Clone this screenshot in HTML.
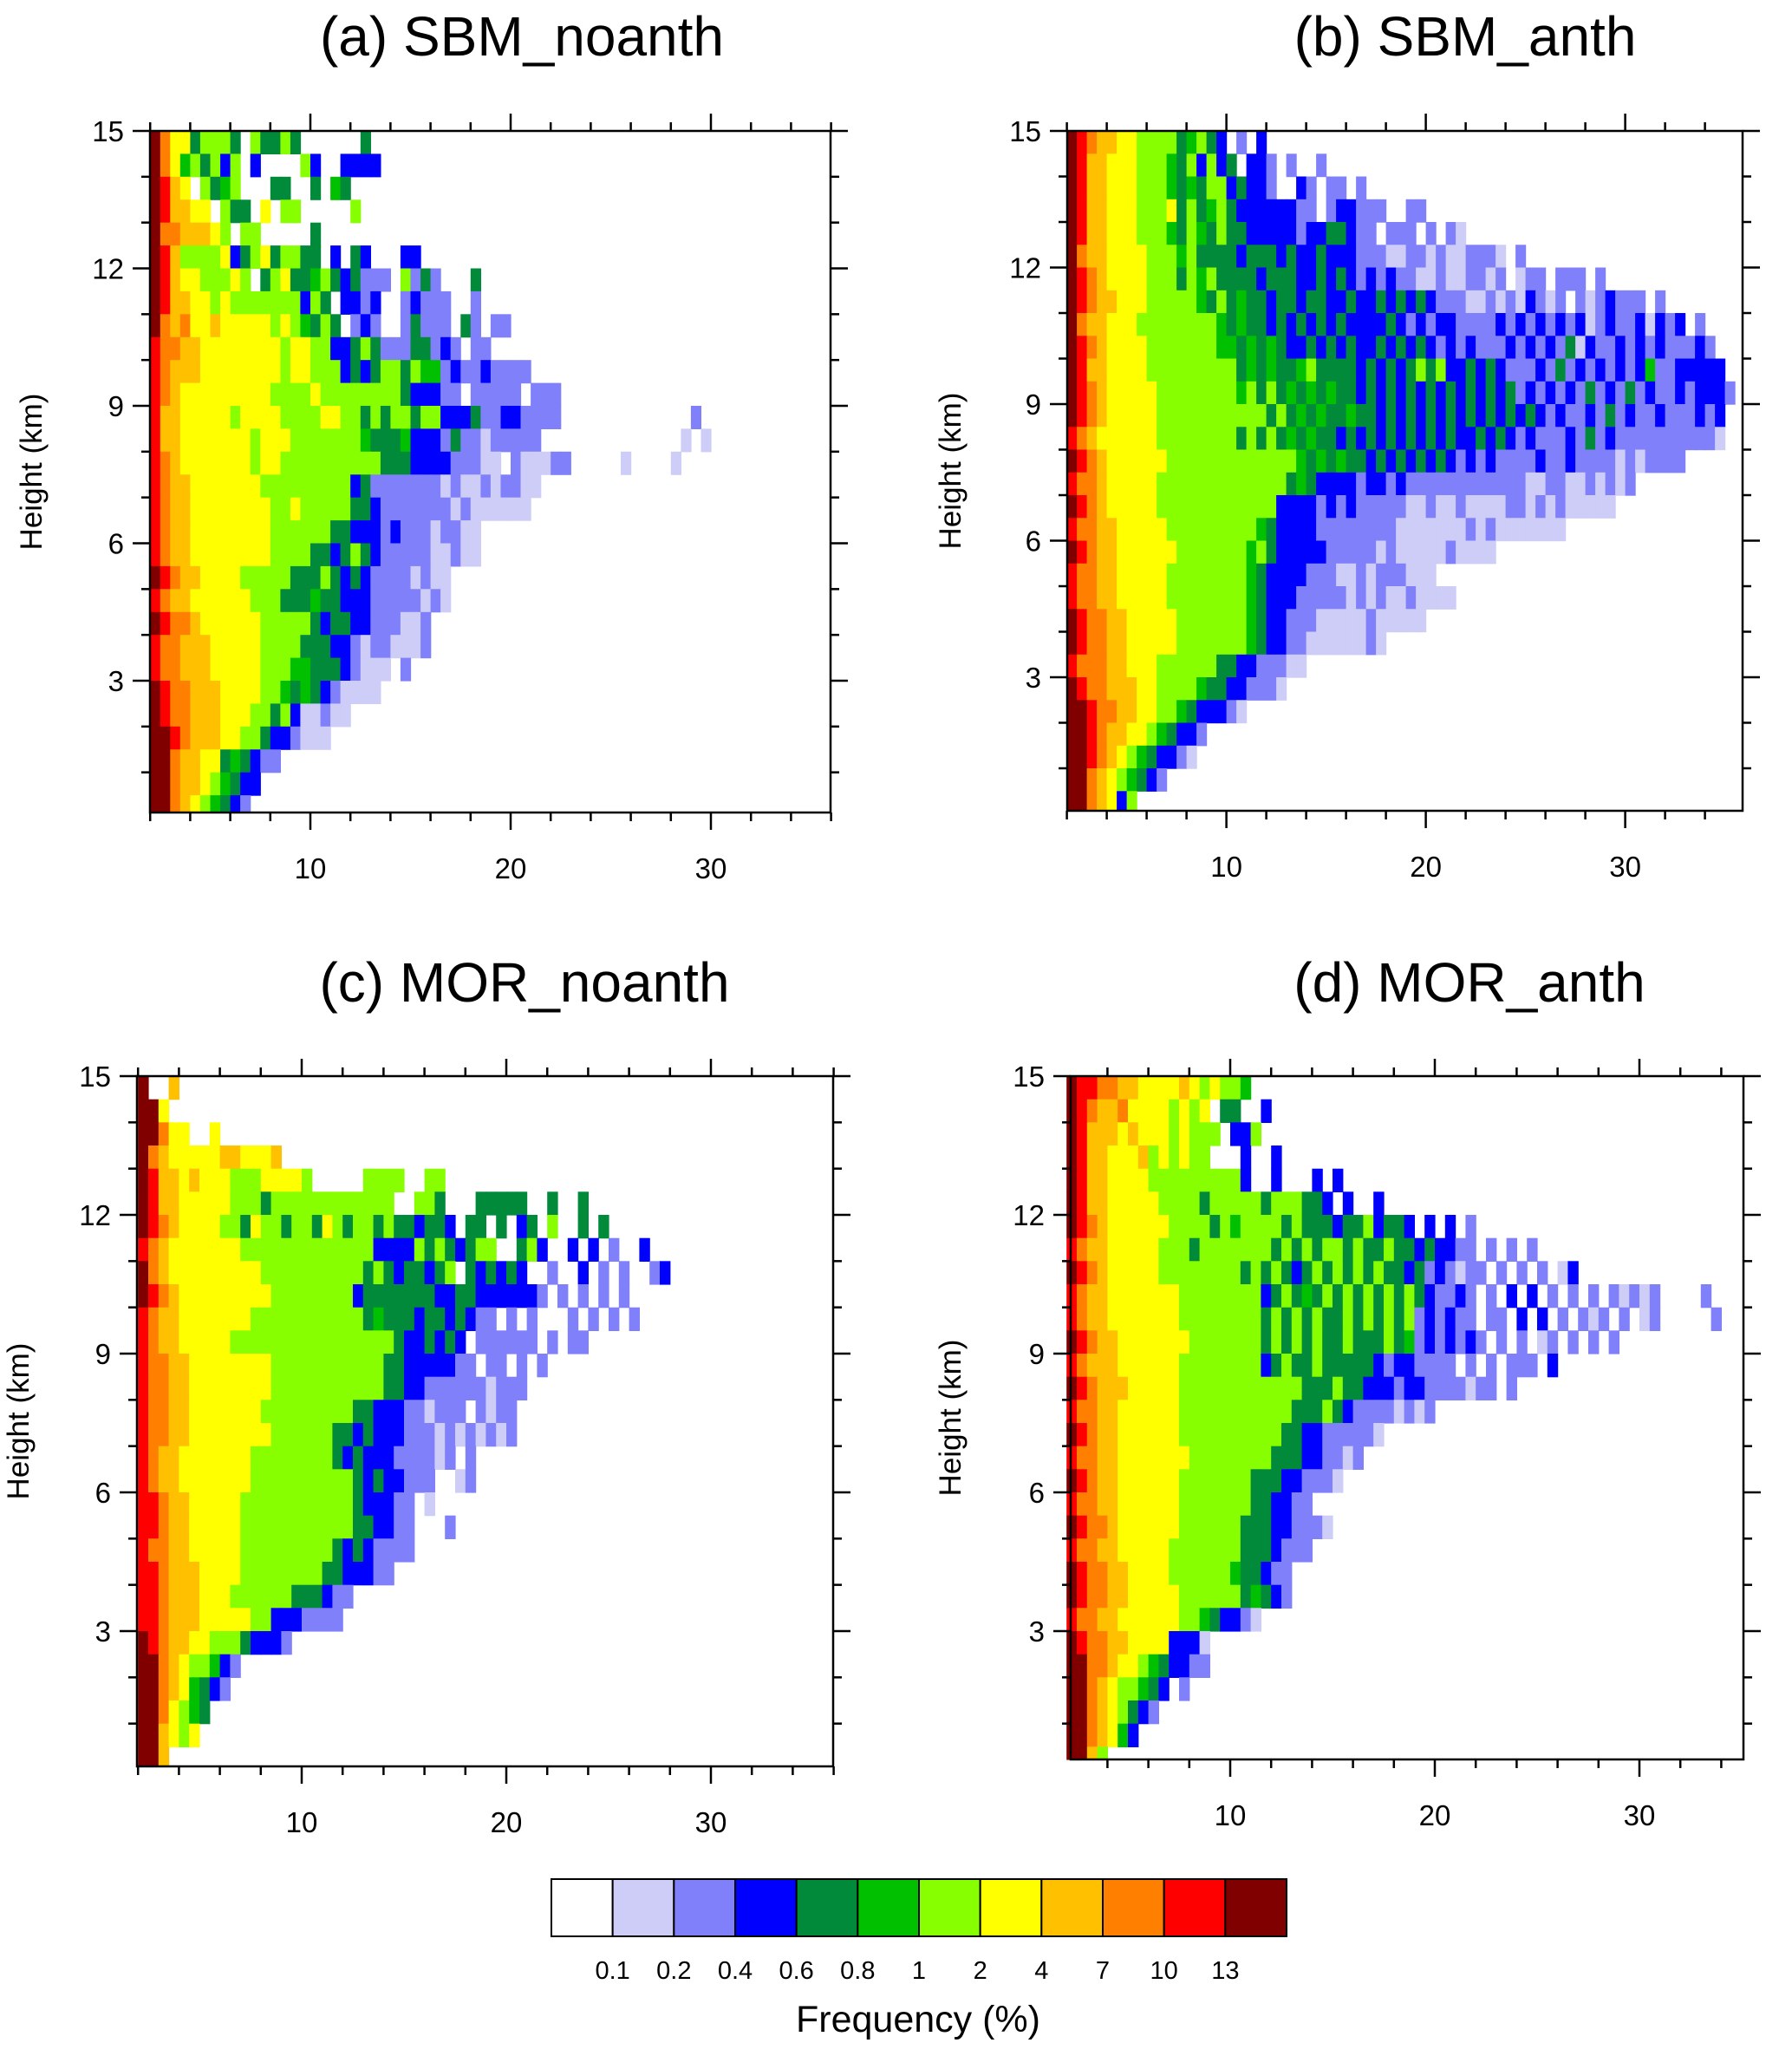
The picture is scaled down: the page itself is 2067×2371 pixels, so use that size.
<!DOCTYPE html>
<html><head><meta charset="utf-8">
<style>
html,body{margin:0;padding:0;background:#fff;}
body{width:2067px;height:2366px;overflow:hidden;font-family:"Liberation Sans",sans-serif;}
</style></head>
<body>
<svg id="fig" width="2067" height="2366" viewBox="0 0 2067 2366" xmlns="http://www.w3.org/2000/svg" font-family="Liberation Sans, sans-serif"></svg>
<script>
// Frequency levels: 0 white,1 0.1-0.2,2 0.2-0.4,3 0.4-0.6,4 0.6-0.8,5 0.8-1,6 1-2,7 2-4,8 4-7,9 7-10,A 10-13,B >13
const levelColors = ["#ffffff","#cdcdf8","#8080fa","#0000ff","#008a3a","#00c000","#88ff00","#ffff00","#ffc000","#ff8000","#ff0000","#800000"];
const levelLabels = ["0.1","0.2","0.4","0.6","0.8","1","2","4","7","10","13"];
const xTicks = [10,20,30];
const yTicks = [3,6,9,12,15];

// rows top (14.5-15 km) to bottom (0-0.5 km); columns from 2 in 0.5 bins
const rowsA = [
"B9774666406446400000040",
"B97564636030000630033330",
"BA870645600044004054",
"BA8877064407066000006",
"B99888760660000040",
"BA8666673467466440304300033",
"BA8776667604674456434222062420004",
"BA887767666666636403323002322200200",
"B989778777776765464023200242220420220",
"A9988777777776776633464222442320220",
"A988877777777677666343466465523223222200",
"A9877777777766667666666664333220222220222",
"A887777767777666677664646646633342233222200000000000002",
"A88777777767776666666544453332422122222000000000000001 1",
"A9877777776776666666666444333322211 21112200000100001",
"A98877777776666666663422222221211212211",
"A9887777777766766666443222222212111111",
"A98877777777666666443332322212211",
"A98877777777666644346432222211211",
"BA9887777666664446434322221211",
"A98877777766644454433322222121",
"BA99877777766666434433222112",
"A998887777766664443321221112",
"A9988877777666554443211102",
"BA998887777665454321111",
"BA998887776646311211",
"BBA988877664332111",
"BB98877454322",
"BB988765433",
"BB98765432"
];
const rowsB = [
"BA9887766664564302030",
"BA887776665463634033202002",
"BA8877766654546634332003202202",
"BA8877766674645643333332202332220022",
"BA88777666546546443333323344322022202021",
"B988777766656444434443433433322211221211222102",
"BA9877776664656444434443343432323221121122120122022202",
"BA98877766666546454434434433433434343222112121321202123222 2",
"B988777666666665454434343434333343232332222323232323123223132302",
"BA987777666666655454543343434334343432323222323232413223232322232",
"BA8877776666666664545445644443434346463343432223242323232352233333",
"BA98777776666666656464545454434343434343434342323232423242322323332",
"BA9877777666666666664645454454434343434343434343232232423223222323",
"A98777777666666664646454544343434343434334343232223242322222222221",
"BA987777776666666666666545454434343434323232222322322221212222",
"A99877777666666666666645433332332322222222222211221121212",
"BA98777776666666666663333232322222112112111122121211111",
"A9988777776666666665433332222222211111112121111111",
"BA98877777766666665643333322222121111121111",
"A998877777666666665433332221121222111",
"A99887777766666666543332222212121121111",
"BA9988777776666666543322211111211111",
"BA998877777666666654332211111121",
"A99988777666666443322211",
"BA99888776666544332221",
"BBA998877665433321",
"BBA98877654332",
"BBA9876543321",
"BB98765432",
"BB98736"
];
const rowsC = [
"B00800",
"BB7",
"BB977007",
"B9877777887778",
"BA887877766677776000006666006600",
"BA887777766646666666666660066400044444004004",
"BA98777766476646647646646443443044040340600404",
"A9877777776666666666666333364643466004630030302003",
"B987777777776666666666464344346043434300200302020023",
"BA98777777777666666663444444433443333332020202020",
"A988777777766666666666454443443432202020002020202",
"A9887777766666666666666664334343022222202022",
"A998877777777666666666664433333220220202",
"A9988777777776666666666644332222221222",
"A998877777776666666664433322122202122",
"A998877777777666666443433322212121212",
"A98877777776666666643433322221202",
"A98877777776666666666434332220012",
"AA9887777766666666666433322 1",
"AA9887777766666666666443322   2",
"A99887777766666666643432222",
"AA98887777666666664433322",
"AA9888777666666444322",
"AA988877777663332222",
"BA9887766643332",
"BB98766532",
"BB9875432",
"BB97654",
"BB8767",
"BB8"
];
const rowsD = [
"BAA998877778767665",
"BA988977776767044003",
"BA888787776766603360",
"BA88777867676600030030",
"BA8877776666666663003000303",
"BA8877777666646666646664430300300",
"BA98777777666646566664644434463443030302",
"A988777776664666666646464664644644343322020202",
"BA987777766666666464643464646464434232122020202013",
"A98877777776666666634645464646464643223202030302020202121200002",
"A988777777766666666464646446464646232322022030302021202012000002",
"BA9887777777666666646464644644464523232320202012020202",
"A98887777776666666634644644444323322220202022203",
"BA988877777666666666666444644333233222212202",
"A99887777776666666666644464322221212",
"BA98877777766666666664433222221",
"A9988777777766666666444332212",
"BA9887777776666666444332221",
"A99887777776666666443322",
"BA998777777666666444332221",
"A99887777766666664443222",
"BA99887777666666544322",
"BA99887777766666645432",
"A998877777766543321",
"BA998877773331",
"BB998776543322",
"BB98766543 2",
"BB9876432",
"BB98753",
"BB86"
];

const NS="http://www.w3.org/2000/svg";
const svg=document.getElementById('fig');
function mk(tag,attrs,parent){const e=document.createElementNS(NS,tag);for(const k in attrs)e.setAttribute(k,attrs[k]);(parent||svg).appendChild(e);return e;}

const panels=[
 {id:'a',title:'(a) SBM_noanth',rows:rowsA,left:173,right:958,top:151,bottom:937,x10:358,x20:589,y15:151,y3:785,tcx:602,tcb:64,ylx:48},
 {id:'b',title:'(b) SBM_anth',rows:rowsB,left:1231,right:2010,top:151,bottom:935,x10:1414.6,x20:1644.6,y15:151,y3:781,tcx:1690,tcb:64,ylx:1108},
 {id:'c',title:'(c) MOR_noanth',rows:rowsC,left:158,right:961,top:1241,bottom:2037,x10:348,x20:584,y15:1241,y3:1881,tcx:605,tcb:1155,ylx:33},
 {id:'d',title:'(d) MOR_anth',rows:rowsD,left:1235,right:2011,top:1241,bottom:2029,x10:1419,x20:1655,y15:1241,y3:1881,tcx:1695,tcb:1155,ylx:1108}
];

panels.forEach(p=>{
  const g=mk('g',{});
  
  
  const sx=(p.x20-p.x10)/10, X=v=>p.x10+(v-10)*sx;
  const sy=(p.y3-p.y15)/12, Y=v=>p.y15+(15-v)*sy;
  const t=mk('text',{x:p.tcx,y:p.tcb,'text-anchor':'middle','font-size':64,fill:'#000'},g);
  t.textContent=p.title;
  
  
  const cg=mk('g',{},g);
  
  
  p.rows.forEach((row,r)=>{
    const yTop=15-0.5*r, yBot=yTop-0.5;
    for(let c=0;c<row.length;c++){
      const lv=parseInt(row[c],16);
      if(isNaN(lv)||lv===0)continue;
      const x0=2+0.5*c,x1=x0+0.5;
      let px0=X(x0),px1=X(x1);
      if(px0>=p.right)continue;
      px1=Math.min(px1,p.right);
      let py0=Math.max(Y(yTop),p.top),py1=Math.min(Y(yBot),p.bottom);
      const cell=mk('rect',{x:px0.toFixed(1),y:py0.toFixed(1),width:(px1-px0+0.6).toFixed(1),height:(py1-py0+0.6).toFixed(1),fill:levelColors[lv]},cg);
      
      
    }
  });
  const fr=mk('rect',{x:p.left,y:p.top,width:p.right-p.left,height:p.bottom-p.top,fill:'none',stroke:'#000','stroke-width':2.5},g);
  
  
  const tg=mk('g',{stroke:'#000','stroke-width':2.5},g);
  
  
  for(let v=2;v<=36;v+=2){
    const px=X(v); if(px<p.left-1||px>p.right+1)continue;
    const L=xTicks.includes(v)?20:10;
    mk('line',{x1:px,y1:p.bottom,x2:px,y2:p.bottom+L},tg);
    mk('line',{x1:px,y1:p.top,x2:px,y2:p.top-L},tg);
  }
  for(let v=1;v<=15;v++){
    const py=Y(v); if(py<p.top-1||py>p.bottom+1)continue;
    const L=yTicks.includes(v)?20:10;
    mk('line',{x1:p.left,y1:py,x2:p.left-L,y2:py},tg);
    mk('line',{x1:p.right,y1:py,x2:p.right+L,y2:py},tg);
  }
  xTicks.forEach(v=>{
    const tl=mk('text',{x:X(v),y:p.bottom+76,'text-anchor':'middle','font-size':33},g);
    tl.textContent=v;
    
    
  });
  yTicks.forEach(v=>{
    const tl=mk('text',{x:p.left-30,y:Y(v)+12,'text-anchor':'end','font-size':33},g);
    tl.textContent=v;
    
    
  });
  const cy=(p.top+p.bottom)/2;
  const yl=mk('text',{x:p.ylx,y:cy,'text-anchor':'middle','font-size':35,transform:`rotate(-90 ${p.ylx} ${cy})`},g);
  yl.textContent='Height (km)';
  
  
});

// colorbar
const cb=mk('g',{});


const cbL=636,cbR=1484,cbT=2167,cbB=2233,bw=(cbR-cbL)/levelColors.length;
levelColors.forEach((col,i)=>{
  const b=mk('rect',{x:cbL+i*bw,y:cbT,width:bw,height:cbB-cbT,fill:col,stroke:'#000','stroke-width':2},cb);
  
  
});
levelLabels.forEach((lab,i)=>{
  const t=mk('text',{x:cbL+(i+1)*bw,y:2282,'text-anchor':'middle','font-size':29},cb);
  t.textContent=lab;
  
  
});
const ft=mk('text',{x:1059,y:2343,'text-anchor':'middle','font-size':43},cb);
ft.textContent='Frequency (%)';


</script>
</body></html>
